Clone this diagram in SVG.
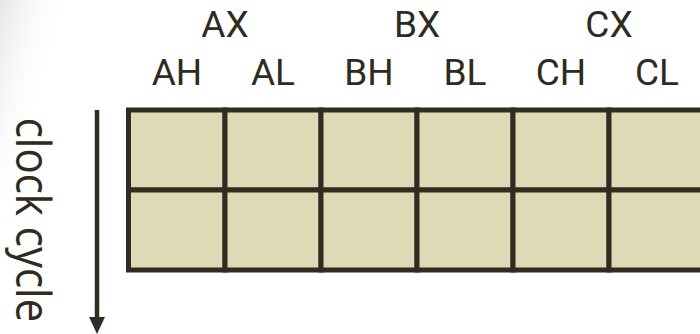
<svg xmlns="http://www.w3.org/2000/svg" width="700" height="334" viewBox="0 0 700 334">
<style>
.lbl{font-family:Roboto,"Open Sans","Liberation Sans",sans-serif;font-size:37px;fill:#2f2b20;text-anchor:middle}
.side{font-family:"Open Sans","Liberation Sans",sans-serif;font-size:42px;fill:#2f2b20;text-anchor:middle}
.cell{fill:#dfdab6;stroke:#302c22;stroke-width:5}
.conn{stroke:#302c22;stroke-width:4.5;fill:none}
</style>
<defs>
<linearGradient id="shade" x1="0" y1="0" x2="1" y2="0.6">
<stop offset="0" stop-color="#e6e6e6"/>
<stop offset="0.6" stop-color="#ffffff" stop-opacity="0"/>
</linearGradient>
<marker id="ah" viewBox="0 0 17 16" refX="0" refY="8" markerWidth="17" markerHeight="16" markerUnits="userSpaceOnUse" orient="auto">
<polygon points="0,0 17,8 0,16" fill="#302c22"/>
</marker>
</defs>
<rect x="0" y="0" width="700" height="334" fill="#ffffff"/>
<rect x="0" y="0" width="90" height="200" fill="url(#shade)"/>
<g id="labels">
<text class="lbl" x="225" y="36.5">AX</text>
<text class="lbl" x="417" y="36.5">BX</text>
<text class="lbl" x="609" y="36.5">CX</text>
<text class="lbl" x="177" y="85">AH</text>
<text class="lbl" x="273" y="85">AL</text>
<text class="lbl" x="369" y="85">BH</text>
<text class="lbl" x="465" y="85">BL</text>
<text class="lbl" x="561" y="85">CH</text>
<text class="lbl" x="657" y="85">CL</text>
<text class="side" transform="translate(16,220) rotate(90) scale(1,1.12)" x="0" y="0">clock cycle</text>
</g>
<g id="row1">
<g id="cell-AH-1"><rect class="cell" x="128.5" y="110" width="96.5" height="80"/></g>
<g id="cell-AL-1"><rect class="cell" x="225" y="110" width="96" height="80"/></g>
<g id="cell-BH-1"><rect class="cell" x="321" y="110" width="96" height="80"/></g>
<g id="cell-BL-1"><rect class="cell" x="417" y="110" width="96" height="80"/></g>
<g id="cell-CH-1"><rect class="cell" x="513" y="110" width="96" height="80"/></g>
<g id="cell-CL-1"><rect class="cell" x="609" y="110" width="96" height="80"/></g>
</g>
<g id="row2">
<g id="cell-AH-2"><rect class="cell" x="128.5" y="190" width="96.5" height="80"/></g>
<g id="cell-AL-2"><rect class="cell" x="225" y="190" width="96" height="80"/></g>
<g id="cell-BH-2"><rect class="cell" x="321" y="190" width="96" height="80"/></g>
<g id="cell-BL-2"><rect class="cell" x="417" y="190" width="96" height="80"/></g>
<g id="cell-CH-2"><rect class="cell" x="513" y="190" width="96" height="80"/></g>
<g id="cell-CL-2"><rect class="cell" x="609" y="190" width="96" height="80"/></g>
</g>
<g id="connectors">
<line class="conn" x1="97" y1="110" x2="97" y2="317" marker-end="url(#ah)"/>
</g>
</svg>
